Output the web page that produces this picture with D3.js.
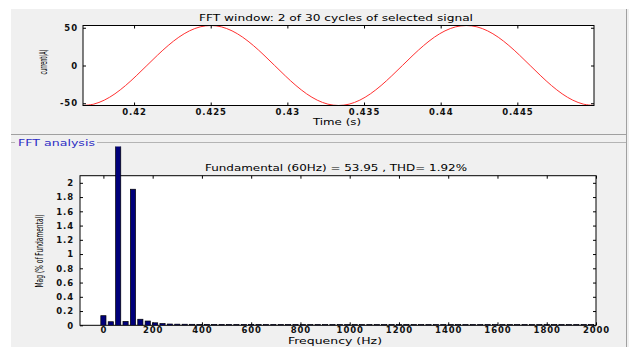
<!DOCTYPE html>
<html>
<head>
<meta charset="utf-8">
<script src="https://cdn.jsdelivr.net/npm/d3@7"></script>
<style>
  body { margin: 0; background: #fff; }
  svg { display: block; font-family: "DejaVu Sans", sans-serif; }
  .tick text { font-size: 8.5px; letter-spacing: 0.9px; fill: #111; font-weight: bold; }
  .tick line { stroke: #000; }
  .lbl { fill: #000; }
</style>
</head>
<body>
<svg width="629" height="347"></svg>
<script>
const tStart = 0.41667;
const tEnd = 0.45;
const sampleStep = 1 / 1440;
const currentValues = [
  -53, -51.2, -45.9, -37.5, -26.5, -13.7, 0, 13.7, 26.5, 37.5, 45.9, 51.2,
  53, 51.2, 45.9, 37.5, 26.5, 13.7, 0, -13.7, -26.5, -37.5, -45.9, -51.2,
  -53, -51.2, -45.9, -37.5, -26.5, -13.7, 0, 13.7, 26.5, 37.5, 45.9, 51.2,
  53, 51.2, 45.9, 37.5, 26.5, 13.7, 0, -13.7, -26.5, -37.5, -45.9, -51.2, -53
];
const timeTicks = [0.42, 0.425, 0.43, 0.435, 0.44, 0.445];
const currentTicks = [-50, 0, 50];

// spectrum, one bar every 30 Hz (0 .. 1980 Hz), % of fundamental
const binStep = 30;
const harmonicMag = [
  0.135, 0.05, 100, 0.055, 1.91, 0.085, 0.06, 0.035, 0.025, 0.018,
  0.016, 0.015, 0.014, 0.013, 0.013, 0.012, 0.012, 0.012, 0.011, 0.012,
  0.013, 0.012, 0.011, 0.011, 0.011, 0.011, 0.012, 0.011, 0.01, 0.011,
  0.01, 0.01, 0.011, 0.01, 0.01, 0.01, 0.01, 0.01, 0.01, 0.01,
  0.01, 0.01, 0.01, 0.01, 0.01, 0.01, 0.01, 0.01, 0.01, 0.01,
  0.01, 0.01, 0.01, 0.01, 0.01, 0.01, 0.01, 0.01, 0.01, 0.01,
  0.01, 0.01, 0.01, 0.01, 0.01, 0.01, 0.01
];
const freqTicks = [0, 200, 400, 600, 800, 1000, 1200, 1400, 1600, 1800, 2000];
const magTicks = [0, 0.2, 0.4, 0.6, 0.8, 1, 1.2, 1.4, 1.6, 1.8, 2];

const svg = d3.select('svg');

// figure background + panels
svg.append('rect').attr('x', 11).attr('y', 9).attr('width', 618).attr('height', 338).attr('fill', '#f0f0f0');
svg.append('line').attr('x1', 11).attr('x2', 627).attr('y1', 134.5).attr('y2', 134.5).attr('stroke', '#a0a0a0');
svg.append('line').attr('x1', 626.5).attr('x2', 626.5).attr('y1', 9).attr('y2', 347).attr('stroke', '#a0a0a0');
svg.append('line').attr('x1', 11).attr('x2', 15).attr('y1', 142.5).attr('y2', 142.5).attr('stroke', '#b4b4b4');
svg.append('line').attr('x1', 97).attr('x2', 626).attr('y1', 142.5).attr('y2', 142.5).attr('stroke', '#b4b4b4');
svg.append('text').attr('x', 18).attr('y', 145.5).attr('font-size', '9.5px').attr('fill', '#2c2cc4')
  .attr('textLength', 77).attr('lengthAdjust', 'spacingAndGlyphs').text('FFT analysis');

// ---------- top: time signal ----------
const topBox = { left: 83, right: 594, top: 25.5, bottom: 105.5 };
const x1 = d3.scaleLinear().domain([tStart, tEnd]).range([topBox.left, topBox.right]);
const y1 = d3.scaleLinear().domain([-53, 53]).range([topBox.bottom, topBox.top]);

svg.append('rect').attr('x', topBox.left).attr('y', topBox.top)
  .attr('width', topBox.right - topBox.left).attr('height', topBox.bottom - topBox.top).attr('fill', '#fff');

svg.append('clipPath').attr('id', 'clipTop').append('rect')
  .attr('x', topBox.left).attr('y', topBox.top - 1).attr('width', topBox.right - topBox.left).attr('height', topBox.bottom - topBox.top + 2);

const line = d3.line()
  .x((d, i) => x1(tStart + i * sampleStep))
  .y(d => y1(d))
  .curve(d3.curveCardinal);

svg.append('path').datum(currentValues)
  .attr('clip-path', 'url(#clipTop)')
  .attr('d', line).attr('fill', 'none').attr('stroke', '#ff3030').attr('stroke-width', 1);

function drawAxes(xs, ys, box, xt, yt, padX, padY) {
  const gb = svg.append('g').attr('transform', `translate(0,${box.bottom})`)
    .call(d3.axisBottom(xs).tickValues(xt).tickFormat(String).tickSizeInner(-3).tickSizeOuter(0).tickPadding(padX));
  const gt = svg.append('g').attr('transform', `translate(0,${box.top})`)
    .call(d3.axisTop(xs).tickValues(xt).tickFormat('').tickSizeInner(-3).tickSizeOuter(0));
  const gl = svg.append('g').attr('transform', `translate(${box.left},0)`)
    .call(d3.axisLeft(ys).tickValues(yt).tickFormat(String).tickSizeInner(-3).tickSizeOuter(0).tickPadding(padY));
  const gr = svg.append('g').attr('transform', `translate(${box.right},0)`)
    .call(d3.axisRight(ys).tickValues(yt).tickFormat('').tickSizeInner(-3).tickSizeOuter(0));
  [gb, gt, gl, gr].forEach(g => { g.select('.domain').remove(); g.attr('font-family', null).attr('font-size', null); });
  svg.append('rect').attr('x', box.left).attr('y', box.top)
    .attr('width', box.right - box.left).attr('height', box.bottom - box.top)
    .attr('fill', 'none').attr('stroke', '#000').attr('stroke-width', 1);
}

drawAxes(x1, y1, topBox, timeTicks, currentTicks, 3, 5);

svg.append('text').attr('class', 'lbl').attr('x', 199).attr('y', 20.5).attr('font-size', '9.5px')
  .attr('textLength', 274).attr('lengthAdjust', 'spacingAndGlyphs')
  .text('FFT window: 2 of 30 cycles of selected signal');
svg.append('text').attr('class', 'lbl').attr('x', 313).attr('y', 124.5).attr('font-size', '9.5px')
  .attr('textLength', 48).attr('lengthAdjust', 'spacingAndGlyphs').text('Time (s)');
svg.append('text').attr('transform', 'translate(46.5,62) rotate(-90)').attr('text-anchor', 'middle')
  .attr('font-size', '10px').attr('fill', '#000')
  .attr('textLength', 25).attr('lengthAdjust', 'spacingAndGlyphs').text('current(A)');

// ---------- bottom: spectrum ----------
const botBox = { left: 80, right: 596, top: 175.7, bottom: 325.3 };
const x2 = d3.scaleLinear().domain([-95, 2000]).range([botBox.left, botBox.right]);
const y2 = d3.scaleLinear().domain([0, 2.1]).range([botBox.bottom, botBox.top]);
const barW = 21; // Hz

svg.append('rect').attr('x', botBox.left).attr('y', botBox.top)
  .attr('width', botBox.right - botBox.left).attr('height', botBox.bottom - botBox.top).attr('fill', '#fff');

drawAxes(x2, y2, botBox, freqTicks, magTicks, 2, 6);

svg.append('clipPath').attr('id', 'clipBars').append('rect')
  .attr('x', botBox.left).attr('y', 146.5).attr('width', botBox.right - botBox.left).attr('height', botBox.bottom - 146.5);

svg.append('g').attr('clip-path', 'url(#clipBars)')
  .selectAll('rect').data(harmonicMag)
  .enter().append('rect')
  .attr('x', (d, i) => x2(i * binStep - barW / 2))
  .attr('width', x2(barW) - x2(0))
  .attr('y', d => y2(d))
  .attr('height', d => y2(0) - y2(d))
  .attr('fill', '#00007a')
  .attr('stroke', '#000')
  .attr('stroke-width', 0.7);

svg.append('text').attr('class', 'lbl').attr('x', 205).attr('y', 171).attr('font-size', '9.5px')
  .attr('textLength', 262).attr('lengthAdjust', 'spacingAndGlyphs')
  .text('Fundamental (60Hz) = 53.95 , THD= 1.92%');
svg.append('text').attr('class', 'lbl').attr('x', 288).attr('y', 343.5).attr('font-size', '9px')
  .attr('textLength', 94).attr('lengthAdjust', 'spacingAndGlyphs').text('Frequency (Hz)');
svg.append('text').attr('transform', 'translate(42.5,251) rotate(-90)').attr('text-anchor', 'middle')
  .attr('font-size', '10px').attr('fill', '#000')
  .attr('textLength', 73).attr('lengthAdjust', 'spacingAndGlyphs').text('Mag (% of Fundamental)');
</script>
</body>
</html>
